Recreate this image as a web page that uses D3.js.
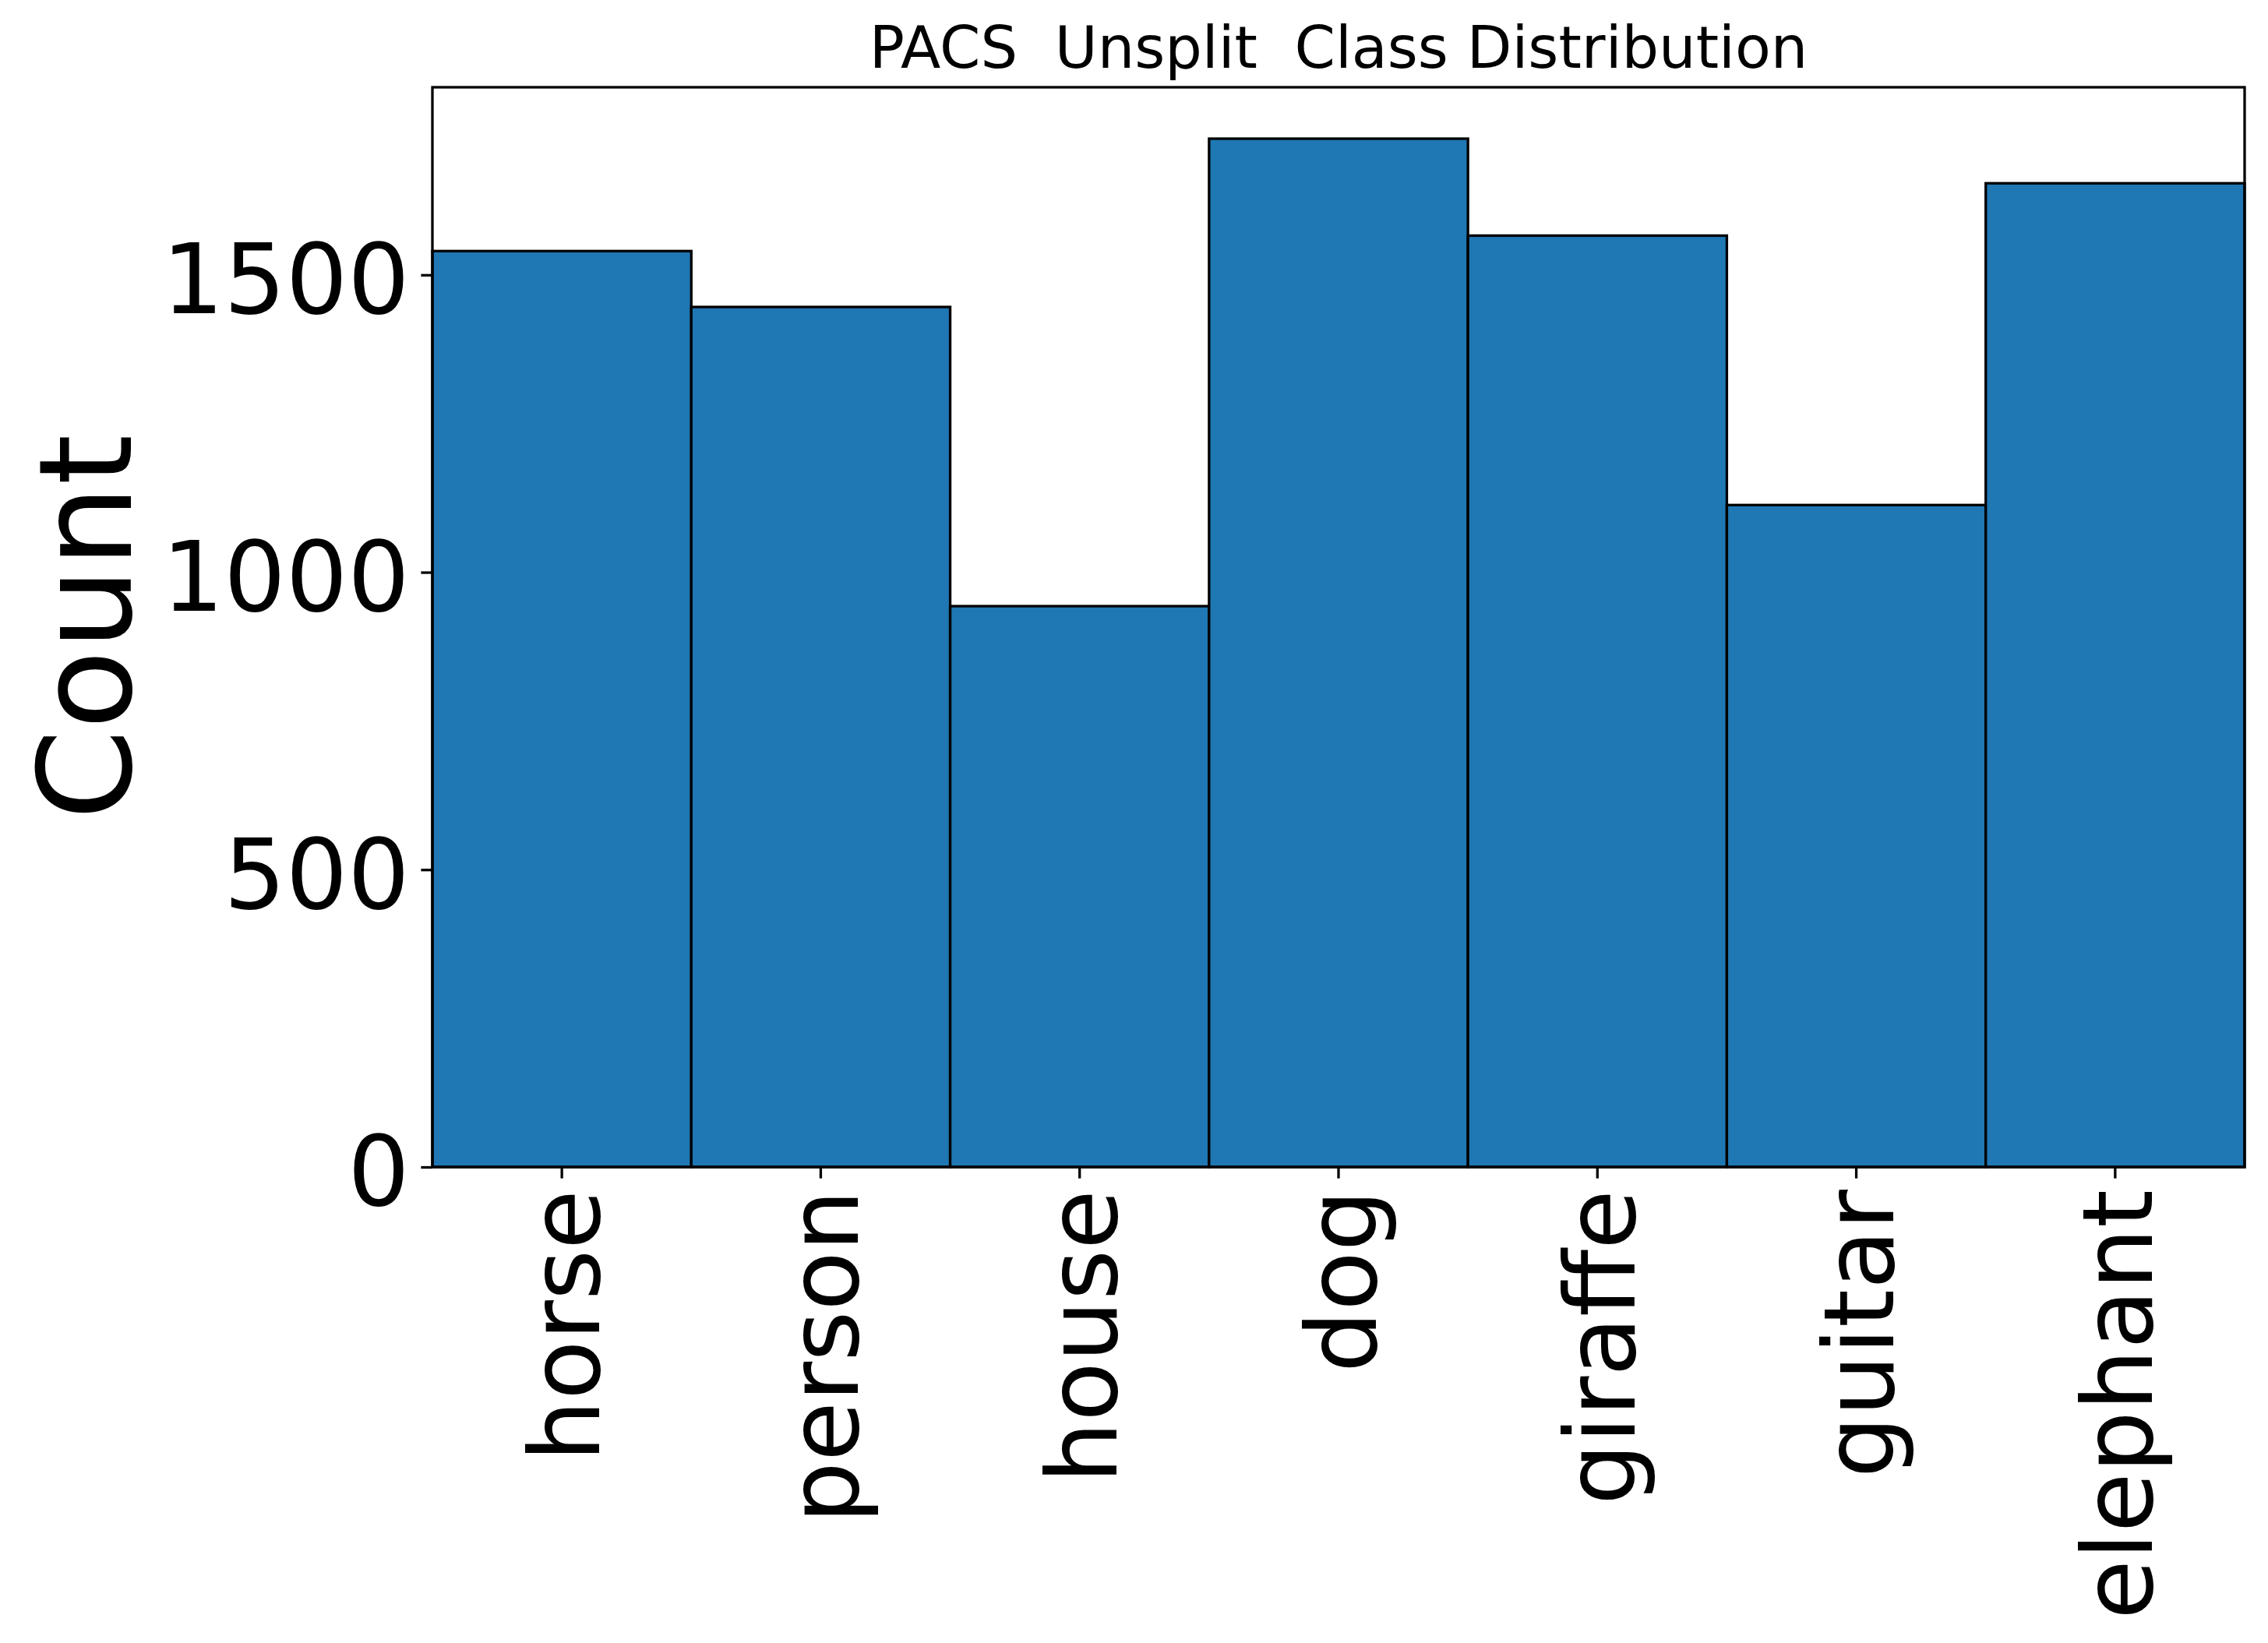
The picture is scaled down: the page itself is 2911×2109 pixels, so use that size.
<!DOCTYPE html>
<html>
<head>
<meta charset="utf-8">
<script src="https://cdn.jsdelivr.net/npm/d3@7"></script>
<style>
  body { margin: 0; background: #fff; }
  text { font-family: "DejaVu Sans", sans-serif; }
</style>
</head>
<body>
<svg id="chart" width="2911" height="2109"></svg>
<script>
// class counts
var classes = ["horse", "person", "house", "dog", "giraffe", "guitar", "elephant"];
var counts = [1540, 1446, 943, 1729, 1566, 1113, 1654];
var yTicks = [0, 500, 1000, 1500];
var title = "PACS  Unsplit  Class Distribution";

var svg = d3.select("#chart"),
    plotLeft = 555, plotRight = 2881, plotTop = 112, plotBottom = 1498;

var x = d3.scaleBand()
    .domain(classes)
    .range([plotLeft, plotRight])
    .padding(0);

var y = d3.scaleLinear()
    .domain([0, d3.max(counts) * 1.05])
    .range([plotBottom, plotTop]);

var data = classes.map(function(c, i) { return {name: c, value: counts[i]}; });

// bars
svg.append("g")
  .selectAll("rect")
  .data(data)
  .enter().append("rect")
    .attr("x", function(d) { return x(d.name); })
    .attr("y", function(d) { return y(d.value); })
    .attr("width", x.bandwidth())
    .attr("height", function(d) { return plotBottom - y(d.value); })
    .attr("fill", "#1f77b4")
    .attr("stroke", "#000")
    .attr("stroke-width", 3.3);

// y axis
var yAxis = svg.append("g")
    .attr("transform", "translate(" + plotLeft + ",0)")
    .call(d3.axisLeft(y).tickValues(yTicks).tickSize(14.6).tickPadding(14.6).tickFormat(d3.format("d")));
yAxis.select(".domain").remove();
yAxis.selectAll(".tick line").attr("stroke", "#000").attr("stroke-width", 3.3);
yAxis.selectAll(".tick text")
    .attr("font-size", 125)
    .attr("fill", "#000")
    .attr("dy", "0.39em");

// x axis
var xAxis = svg.append("g")
    .attr("transform", "translate(0," + plotBottom + ")")
    .call(d3.axisBottom(x).tickSize(14.6).tickSizeOuter(0));
xAxis.select(".domain").remove();
xAxis.selectAll(".tick line").attr("stroke", "#000").attr("stroke-width", 3.3);
xAxis.selectAll(".tick text")
    .attr("font-size", 125)
    .attr("fill", "#000")
    .attr("text-anchor", "end")
    .attr("transform", "translate(0,29) rotate(-90)")
    .attr("x", 0)
    .attr("y", 0)
    .attr("dy", "0.38em");

// frame
svg.append("rect")
    .attr("x", plotLeft)
    .attr("y", plotTop)
    .attr("width", plotRight - plotLeft)
    .attr("height", plotBottom - plotTop)
    .attr("fill", "none")
    .attr("stroke", "#000")
    .attr("stroke-width", 3.3);

// labels
svg.append("text")
    .attr("transform", "translate(168," + ((plotTop + plotBottom) / 2) + ") rotate(-90)")
    .attr("text-anchor", "middle")
    .attr("font-size", 166.7)
    .attr("fill", "#000")
    .text("Count");

svg.append("text")
    .attr("x", (plotLeft + plotRight) / 2)
    .attr("y", 87)
    .attr("text-anchor", "middle")
    .attr("font-size", 75)
    .attr("fill", "#000")
    .style("white-space", "pre")
    .text(title);
</script>
</body>
</html>
